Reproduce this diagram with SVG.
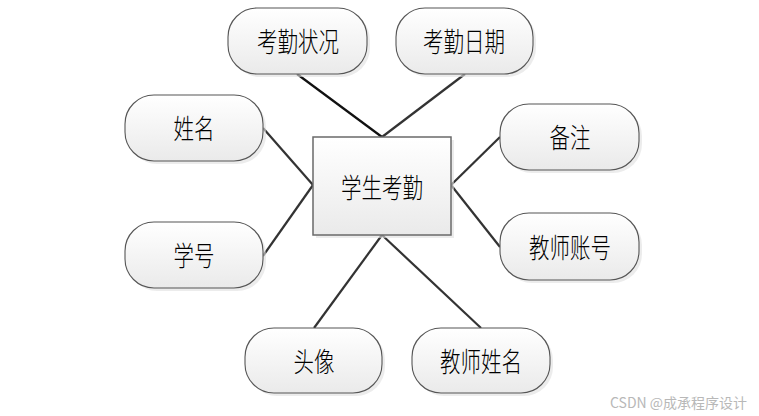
<svg xmlns="http://www.w3.org/2000/svg" width="759" height="416" viewBox="0 0 759 416">
<defs>
<linearGradient id="g" x1="0" y1="0" x2="0" y2="1">
<stop offset="0" stop-color="#ffffff"/>
<stop offset="1" stop-color="#eaeaea"/>
</linearGradient>
<style>
.sh{fill:#e0e0e0;opacity:0.6}
.at{fill:url(#g);stroke:#555;stroke-width:1.1}
.en{fill:url(#g);stroke:#6a6a6a;stroke-width:1.5}
.t{font-family:"Noto Sans CJK SC","Noto Sans CJK JP",sans-serif;font-weight:300;font-size:27px;fill:#000;text-anchor:middle;dominant-baseline:central}
.c line{stroke:#333;stroke-width:2.2}
.wm{font-family:"Noto Sans CJK SC","Liberation Sans",sans-serif;font-size:14px;fill:#b8b8b8}
</style>
</defs>
<rect width="759" height="416" fill="#fff"/>
<g class="c" id="connectors">
<line x1="297" y1="74" x2="382" y2="137" style="stroke:#111"/>
<line x1="465" y1="74" x2="382" y2="137"/>
<line x1="263" y1="128" x2="313" y2="185"/>
<line x1="263" y1="256" x2="313" y2="185"/>
<line x1="500" y1="137" x2="451" y2="185"/>
<line x1="500" y1="247" x2="451" y2="185"/>
<line x1="382" y1="235" x2="314" y2="328"/>
<line x1="382" y1="235" x2="481" y2="328"/>
</g>
<g id="entity">
<rect class="sh" x="316" y="140" width="138" height="98"/>
<rect class="en" x="313" y="137" width="138" height="98"/>
<text class="t" x="382" y="186" textLength="82" lengthAdjust="spacingAndGlyphs">学生考勤</text>
</g>
<g id="kqzk">
<rect class="sh" x="231" y="11" width="139" height="66" rx="29"/>
<rect class="at" x="228" y="8" width="139" height="66" rx="29"/>
<text class="t" x="298" y="40" textLength="82" lengthAdjust="spacingAndGlyphs">考勤状况</text>
</g>
<g id="kqrq">
<rect class="sh" x="399" y="11" width="137" height="66" rx="29"/>
<rect class="at" x="396" y="8" width="137" height="66" rx="29"/>
<text class="t" x="464" y="40" textLength="82" lengthAdjust="spacingAndGlyphs">考勤日期</text>
</g>
<g id="xm">
<rect class="sh" x="128" y="98" width="138" height="66" rx="29"/>
<rect class="at" x="125" y="95" width="138" height="66" rx="29"/>
<text class="t" x="194" y="127" textLength="41" lengthAdjust="spacingAndGlyphs">姓名</text>
</g>
<g id="xh">
<rect class="sh" x="128" y="225" width="138" height="66" rx="29"/>
<rect class="at" x="125" y="222" width="138" height="66" rx="29"/>
<text class="t" x="194" y="254" textLength="41" lengthAdjust="spacingAndGlyphs">学号</text>
</g>
<g id="bz">
<rect class="sh" x="503" y="107" width="139" height="66" rx="29"/>
<rect class="at" x="500" y="104" width="139" height="66" rx="29"/>
<text class="t" x="570" y="136" textLength="41" lengthAdjust="spacingAndGlyphs">备注</text>
</g>
<g id="jszh">
<rect class="sh" x="503" y="216" width="139" height="67" rx="29"/>
<rect class="at" x="500" y="213" width="139" height="67" rx="29"/>
<text class="t" x="570" y="246" textLength="82" lengthAdjust="spacingAndGlyphs">教师账号</text>
</g>
<g id="tx">
<rect class="sh" x="248" y="331" width="137" height="65" rx="29"/>
<rect class="at" x="245" y="328" width="137" height="65" rx="29"/>
<text class="t" x="314" y="360" textLength="41" lengthAdjust="spacingAndGlyphs">头像</text>
</g>
<g id="jsxm">
<rect class="sh" x="415" y="331" width="138" height="65" rx="29"/>
<rect class="at" x="412" y="328" width="138" height="65" rx="29"/>
<text class="t" x="481" y="360" textLength="82" lengthAdjust="spacingAndGlyphs">教师姓名</text>
</g>
<text class="wm" x="610" y="408">CSDN @成承程序设计</text>
</svg>
